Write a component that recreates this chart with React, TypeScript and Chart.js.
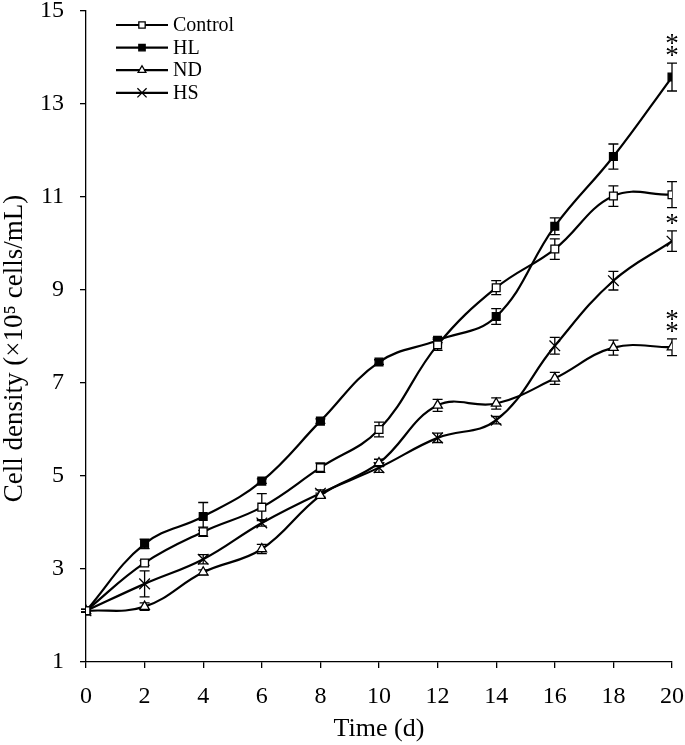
import React, { useEffect, useRef } from 'react';
import { Chart, registerables } from 'chart.js';
import { drawPoint } from 'chart.js/helpers';

Chart.register(...registerables);

// ---- data ----
const days = [0, 2, 4, 6, 8, 10, 12, 14, 16, 18, 20];

const controlMean = [2.1, 3.13, 3.8, 4.33, 5.18, 6.0, 7.82, 9.05, 9.88, 11.02, 11.05];
const controlErr = [0.03, 0.05, 0.1, 0.29, 0.1, 0.16, 0.12, 0.15, 0.22, 0.22, 0.28];

const hlMean = [2.1, 3.54, 4.13, 4.89, 6.18, 7.45, 7.92, 8.43, 10.37, 11.87, 13.58];
const hlErr = [0.03, 0.1, 0.3, 0.05, 0.05, 0.05, 0.05, 0.17, 0.18, 0.27, 0.3];

const ndMean = [2.1, 2.19, 2.93, 3.43, 4.58, 5.28, 6.52, 6.56, 7.1, 7.76, 7.77];
const ndErr = [0.03, 0.08, 0.05, 0.1, 0.05, 0.08, 0.13, 0.12, 0.13, 0.16, 0.18];

const hsMean = [2.1, 2.68, 3.21, 3.99, 4.63, 5.18, 5.82, 6.2, 7.8, 9.2, 10.05];
const hsErr = [0.03, 0.28, 0.1, 0.07, 0.07, 0.1, 0.1, 0.08, 0.18, 0.2, 0.22];

const seriesNames = ['Control', 'HL', 'ND', 'HS'];
const significance = ['', '**', '**', '*']; // marks above the last time point

const xTitle = 'Time (d)';
const yTitle = 'Cell density (×10⁵ cells/mL)';
const yMin = 1;
const yMax = 15;
const yStep = 2;
const xMin = 0;
const xMax = 20;
const xStep = 2;

const FONT = "'Liberation Serif', 'Times New Roman', serif";

export default function App() {
  const canvasRef = useRef<HTMLCanvasElement | null>(null);

  useEffect(() => {
    document.body.style.margin = '0';
    const canvas = canvasRef.current;
    if (!canvas) return;

    const means = [controlMean, hlMean, ndMean, hsMean];
    const errs = [controlErr, hlErr, ndErr, hsErr];
    const styles: any[] = [
      { pointStyle: 'rect', radius: 5.5, fill: '#ffffff' },
      { pointStyle: 'rect', radius: 5.5, fill: '#000000' },
      { pointStyle: 'triangle', radius: 5.5, fill: '#ffffff' },
      { pointStyle: 'crossRot', radius: 7.5, fill: '#ffffff' },
    ];

    const datasets = seriesNames.map((name, i) => ({
      label: name,
      data: days.map((d, j) => ({ x: d, y: means[i][j] })),
      borderColor: '#000000',
      borderWidth: 2.2,
      tension: 0.4,
      pointStyle: styles[i].pointStyle,
      pointRadius: styles[i].radius,
      pointBackgroundColor: styles[i].fill,
      pointBorderColor: '#000000',
      pointBorderWidth: 1.3,
      fill: false,
    }));

    const errorBars = {
      id: 'errorBars',
      beforeDatasetsDraw(chart: any) {
        const ctx = chart.ctx;
        const xs = chart.scales.x;
        const ys = chart.scales.y;
        ctx.save();
        ctx.strokeStyle = '#000000';
        ctx.lineWidth = 1.3;
        errs.forEach((errArr, i) => {
          days.forEach((d, j) => {
            const e = errArr[j];
            const x = xs.getPixelForValue(d);
            const yt = ys.getPixelForValue(means[i][j] + e);
            const yb = ys.getPixelForValue(means[i][j] - e);
            const cap = 5;
            ctx.beginPath();
            ctx.moveTo(x, yt);
            ctx.lineTo(x, yb);
            ctx.moveTo(x - cap, yt);
            ctx.lineTo(x + cap, yt);
            ctx.moveTo(x - cap, yb);
            ctx.lineTo(x + cap, yb);
            ctx.stroke();
          });
        });
        ctx.restore();
      },
      afterDatasetsDraw(chart: any) {
        const ctx = chart.ctx;
        const xs = chart.scales.x;
        const ys = chart.scales.y;
        ctx.save();
        ctx.fillStyle = '#000000';
        ctx.font = `27px ${FONT}`;
        ctx.textAlign = 'center';
        ctx.textBaseline = 'alphabetic';
        const last = days.length - 1;
        significance.forEach((mark, i) => {
          if (!mark) return;
          const x = xs.getPixelForValue(days[last]);
          const top = ys.getPixelForValue(means[i][last] + errs[i][last]);
          for (let k = 0; k < mark.length; k++) {
            const cy = top - 14 - k * 12;
            ctx.fillText('*', x, cy + 15);
          }
        });
        ctx.restore();
      },
    };

    const customLegend = {
      id: 'customLegend',
      afterDraw(chart: any) {
        const ctx = chart.ctx;
        const area = chart.chartArea;
        const x0 = area.left + 30;
        const x1 = area.left + 82;
        const tx = area.left + 87;
        ctx.save();
        seriesNames.forEach((name, i) => {
          const y = area.top + 14 + i * 22.6;
          ctx.strokeStyle = '#000000';
          ctx.lineWidth = 2.2;
          ctx.beginPath();
          ctx.moveTo(x0, y);
          ctx.lineTo(x1, y);
          ctx.stroke();
          ctx.fillStyle = styles[i].fill;
          ctx.strokeStyle = '#000000';
          ctx.lineWidth = 1.3;
          drawPoint(ctx, {
            pointStyle: styles[i].pointStyle,
            radius: styles[i].pointStyle === 'crossRot' ? 6.5 : 4.5,
            rotation: 0,
            borderWidth: 1.3,
          } as any, (x0 + x1) / 2, y);
          ctx.fillStyle = '#000000';
          ctx.font = `20px ${FONT}`;
          ctx.textAlign = 'left';
          ctx.textBaseline = 'middle';
          ctx.fillText(name, tx, y + 1);
        });
        ctx.restore();
      },
    };

    // y-axis title, drawn rotated beside the axis
    const yTitlePlugin = {
      id: 'yTitlePlugin',
      afterDraw(chart: any) {
        const ctx = chart.ctx;
        const area = chart.chartArea;
        ctx.save();
        ctx.translate(15, (area.top + area.bottom) / 2 + 12);
        ctx.rotate(-Math.PI / 2);
        ctx.fillStyle = '#000000';
        ctx.font = `27px ${FONT}`;
        ctx.textAlign = 'center';
        ctx.textBaseline = 'middle';
        ctx.fillText(yTitle, 0, 0);
        ctx.restore();
      },
    };

    const axisGrid = {
      display: true,
      drawOnChartArea: false,
      drawTicks: true,
      tickLength: 6,
      color: '#000000',
      lineWidth: 1.3,
    };

    const chart = new Chart(canvas, {
      type: 'line',
      data: { datasets },
      options: {
        animation: false,
        responsive: true,
        maintainAspectRatio: false,
        layout: { padding: { left: 0, top: 11, right: 13, bottom: 0 } },
        plugins: {
          legend: { display: false },
          tooltip: { enabled: false },
        },
        scales: {
          x: {
            type: 'linear',
            min: xMin,
            max: xMax,
            ticks: {
              stepSize: xStep,
              color: '#000000',
              font: { family: FONT, size: 24 },
              padding: 14,
              maxRotation: 0,
            },
            grid: axisGrid,
            border: { display: true, color: '#000000', width: 1.3 },
            title: {
              display: true,
              text: xTitle,
              color: '#000000',
              font: { family: FONT, size: 26 },
              padding: { top: 0, bottom: 0 },
            },
            afterFit(scale: any) {
              scale.height = 83;
              scale.paddingLeft = 0;
              scale.paddingRight = 0;
            },
          } as any,
          y: {
            type: 'linear',
            min: yMin,
            max: yMax,
            ticks: {
              stepSize: yStep,
              color: '#000000',
              font: { family: FONT, size: 24 },
              padding: 16,
            },
            grid: axisGrid,
            border: { display: true, color: '#000000', width: 1.3 },
            title: { display: false },
            afterFit(scale: any) {
              scale.width = 86;
              scale.paddingTop = 0;
              scale.paddingBottom = 0;
            },
          } as any,
        },
      },
      plugins: [errorBars, customLegend, yTitlePlugin],
    });

    return () => chart.destroy();
  }, []);

  return (
    <div style={{ width: 685, height: 745, position: 'relative', background: '#ffffff' }}>
      <canvas ref={canvasRef} />
    </div>
  );
}
